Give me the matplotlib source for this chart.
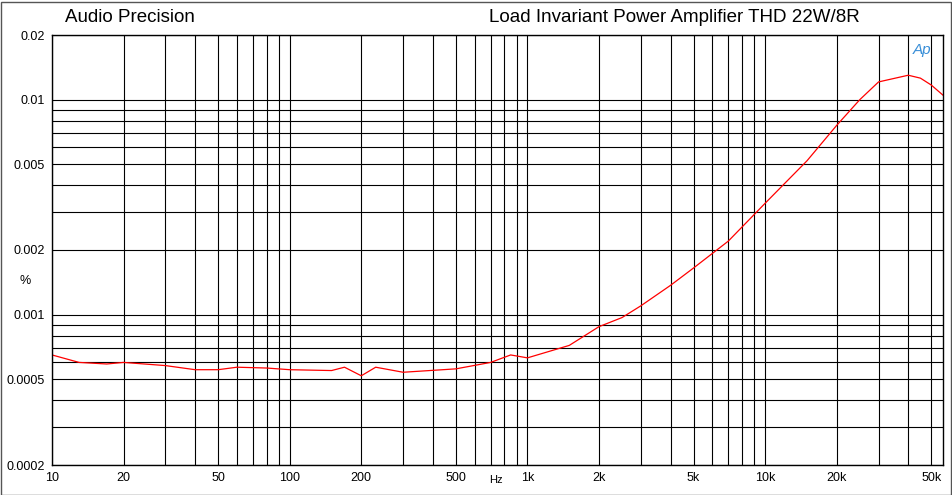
import matplotlib
matplotlib.use("Agg")
import matplotlib.pyplot as plt
import numpy as np
from matplotlib.ticker import FixedLocator, NullFormatter
plt.rcParams["font.family"] = "Liberation Sans"

freq = [10, 13, 17, 20, 30, 40, 50, 60, 80, 100, 150, 170, 200, 230, 300, 500, 700, 850, 1000,
        1500, 2000, 2500, 3000, 4000, 5000, 7000, 10000, 15000, 20000, 25000, 30000, 40000, 45000, 50000, 56000]
thd = [0.00065, 0.00060, 0.00059, 0.00060, 0.00058, 0.000555, 0.000555, 0.00057, 0.000565, 0.000555,
       0.00055, 0.00057, 0.00052, 0.00057, 0.00054, 0.00056, 0.00060, 0.00065, 0.00063,
       0.00072, 0.00088, 0.00097, 0.0011, 0.00137, 0.00165, 0.0022, 0.0033, 0.0052, 0.0076,
       0.0100, 0.0121, 0.0130, 0.0126, 0.0117, 0.0105]
xticks = [10, 20, 50, 100, 200, 500, 1000, 2000, 5000, 10000, 20000, 50000]
xlabels = ["10", "20", "50", "100", "200", "500", "1k", "2k", "5k", "10k", "20k", "50k"]
yticks = [0.0002, 0.0005, 0.001, 0.002, 0.005, 0.01, 0.02]
ylabels = ["0.0002", "0.0005", "0.001", "0.002", "0.005", "0.01", "0.02"]

fig = plt.figure(figsize=(9.52, 4.95), dpi=100)
ax = fig.add_axes([52/952, 30/495, (943-52)/952, (465-35)/495])
ax.set_xscale("log"); ax.set_yscale("log")
ax.set_xlim(10, 56000); ax.set_ylim(0.0002, 0.02)
ax.plot(freq, thd, color="red", lw=0.9)

xminor = [m*10**e for e in range(1, 5) for m in range(1, 10) if 10 <= m*10**e <= 56000]
yminor = [m*10**e for e in range(-4, -1) for m in range(1, 10) if 0.0002 <= m*10**e <= 0.02]
ax.xaxis.set_major_locator(FixedLocator(xticks))
ax.xaxis.set_minor_locator(FixedLocator(xminor))
ax.yaxis.set_major_locator(FixedLocator(yticks))
ax.yaxis.set_minor_locator(FixedLocator(yminor))
ax.set_xticklabels(xlabels); ax.set_yticklabels(ylabels)
ax.xaxis.set_minor_formatter(NullFormatter()); ax.yaxis.set_minor_formatter(NullFormatter())
ax.grid(True, which="both", color="black", lw=0.8)
ax.tick_params(which="both", length=0, labelsize=9, pad=5)
for s in ax.spines.values():
    s.set_color("black"); s.set_linewidth(1)
ax.text(740, 0.00018, "Hz", ha="center", va="top", fontsize=8)
ax.text(-0.03, 0.42, "%", transform=ax.transAxes, ha="center", fontsize=9)
fig.text(65/952, 1-18/495, "Audio Precision", fontsize=13.5, va="center")
fig.text(860/952, 1-18/495, "Load Invariant Power Amplifier THD 22W/8R", fontsize=13.5, va="center", ha="right")
fig.text(922/952, 1-50/495, "Ap", fontsize=11, color="#3a8fd8", style="italic", ha="center", va="center")
fig.patches.append(plt.Rectangle((0.5/952, 0.5/495), 950/952, 493/495, transform=fig.transFigure, fill=False, ec="#555555", lw=1))
fig.savefig("out.png", dpi=100)
